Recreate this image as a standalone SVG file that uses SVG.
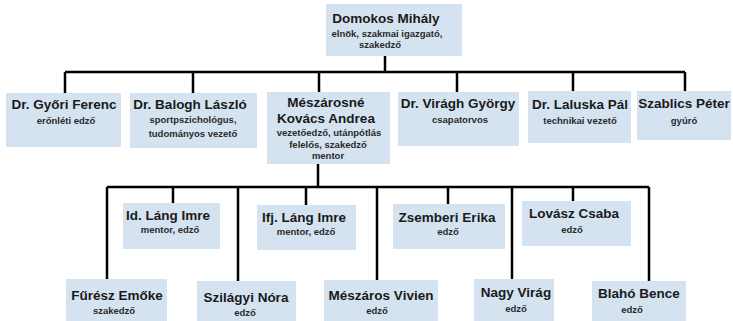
<svg xmlns="http://www.w3.org/2000/svg" width="733" height="321" viewBox="0 0 733 321">
<style>
.box{fill:#d5e3f1;}
.t{font-family:"Liberation Sans",Arial,sans-serif;font-weight:bold;font-size:13.5px;fill:#1a1a1a;text-anchor:middle;}
.s{font-family:"Liberation Sans",Arial,sans-serif;font-weight:bold;font-size:9.5px;fill:#2a2a2a;text-anchor:middle;}
.c{stroke:#000;stroke-width:2.5;fill:none;}
</style>
<rect width="733" height="321" fill="#fff"/>
<g id="connectors">
<path class="c" d="M385 56V72M65 72H685M65 72V93M193 72V93M319 72V92M457 72V92M573 72V91M685 72V91"/>
<path class="c" d="M318 164V187M107 187H649M107 187V279M173 187V203M238 187V281M306 187V205M377 187V280M448 187V204M512 187V279M573 187V201M649 187V281"/>
</g>
<g id="n-domokos"><rect class="box" x="326" y="4" width="136" height="52"/><text class="t" x="386" y="23">Domokos Mihály</text><text class="s" x="387" y="37">elnök, szakmai igazgató,</text><text class="s" x="380" y="48">szakedző</text></g>
<g id="n-gyori"><rect class="box" x="6" y="93" width="115" height="54"/><text class="t" x="64" y="109">Dr. Győri Ferenc</text><text class="s" x="66" y="124">erőnléti edző</text></g>
<g id="n-balogh"><rect class="box" x="130" y="93" width="127" height="55"/><text class="t" x="190" y="109">Dr. Balogh László</text><text class="s" x="193" y="123">sportpszichológus,</text><text class="s" x="193" y="137">tudományos vezető</text></g>
<g id="n-meszarosne"><rect class="box" x="267" y="92" width="123" height="72"/><text class="t" x="326" y="107">Mészárosné</text><text class="t" x="326" y="123">Kovács Andrea</text><text class="s" x="329" y="136">vezetőedző, utánpótlás</text><text class="s" x="328" y="148">felelős, szakedző</text><text class="s" x="328" y="159">mentor</text></g>
<g id="n-viragh"><rect class="box" x="398" y="92" width="121" height="54"/><text class="t" x="458" y="108">Dr. Virágh György</text><text class="s" x="460" y="123">csapatorvos</text></g>
<g id="n-laluska"><rect class="box" x="528" y="91" width="103" height="52"/><text class="t" x="580" y="109">Dr. Laluska Pál</text><text class="s" x="580" y="124">technikai vezető</text></g>
<g id="n-szablics"><rect class="box" x="637" y="91" width="94" height="49"/><text class="t" x="684" y="108">Szablics Péter</text><text class="s" x="684" y="124">gyúró</text></g>
<g id="n-idlang"><rect class="box" x="123" y="203" width="97" height="46"/><text class="t" x="168" y="220">Id. Láng Imre</text><text class="s" x="170" y="233">mentor, edző</text></g>
<g id="n-ifjlang"><rect class="box" x="257" y="205" width="99" height="45"/><text class="t" x="304" y="222">Ifj. Láng Imre</text><text class="s" x="306" y="235">mentor, edző</text></g>
<g id="n-zsemberi"><rect class="box" x="393" y="204" width="112" height="45"/><text class="t" x="447" y="222">Zsemberi Erika</text><text class="s" x="448" y="235">edző</text></g>
<g id="n-lovasz"><rect class="box" x="522" y="201" width="109" height="45"/><text class="t" x="574" y="218">Lovász Csaba</text><text class="s" x="572" y="233">edző</text></g>
<g id="n-furesz"><rect class="box" x="66" y="279" width="101" height="42"/><text class="t" x="117" y="300">Fűrész Emőke</text><text class="s" x="114" y="314">szakedző</text></g>
<g id="n-szilagyi"><rect class="box" x="197" y="281" width="99" height="40"/><text class="t" x="246" y="302">Szilágyi Nóra</text><text class="s" x="245" y="316">edző</text></g>
<g id="n-meszarosv"><rect class="box" x="324" y="280" width="114" height="41"/><text class="t" x="381" y="300">Mészáros Vivien</text><text class="s" x="377" y="314">edző</text></g>
<g id="n-nagy"><rect class="box" x="474" y="279" width="80" height="42"/><text class="t" x="516" y="297">Nagy Virág</text><text class="s" x="516" y="312">edző</text></g>
<g id="n-blaho"><rect class="box" x="592" y="281" width="94" height="40"/><text class="t" x="639" y="298">Blahó Bence</text><text class="s" x="632" y="313">edző</text></g>
</svg>
